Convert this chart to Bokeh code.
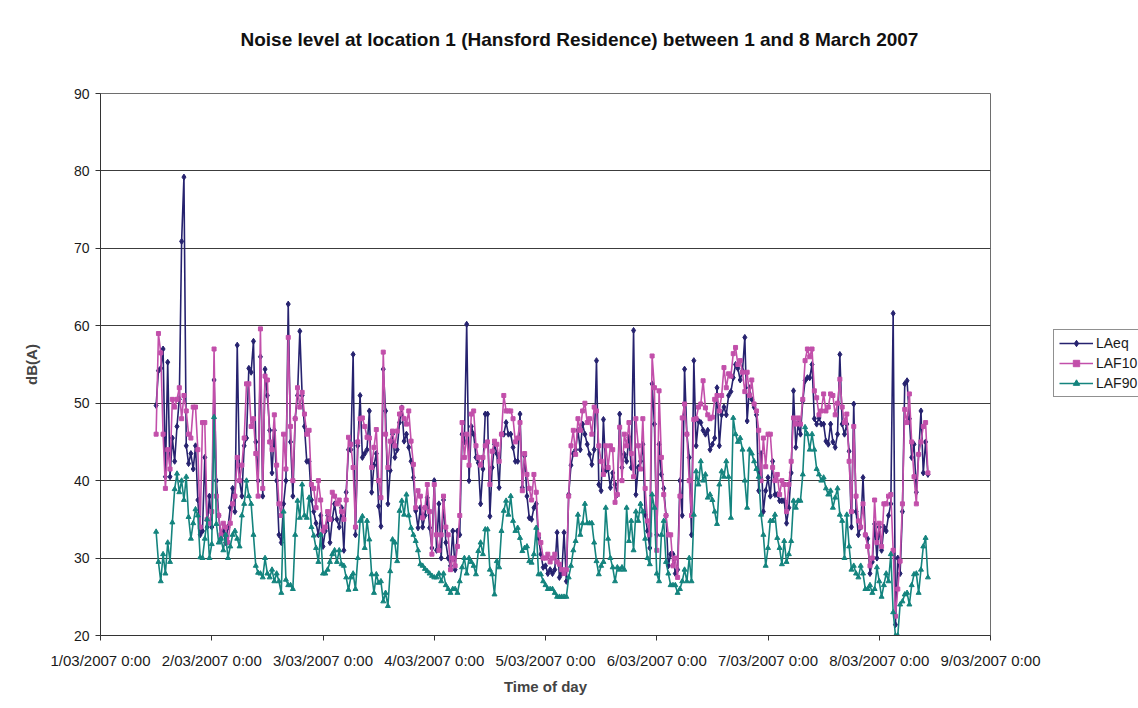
import pandas as pd
from bokeh.plotting import figure
from bokeh.layouts import row
from bokeh.models import FixedTicker, Legend, LegendItem, Range1d, Title
from bokeh.embed import file_html
from bokeh.resources import INLINE

# ---------------- data (30-minute readings from 1/03/2007 12:00) ----------------
start_time = "2007-03-01 12:00"
step = "30min"

LAeq = [
    49.7, 54.2, 54.5, 57.0, 40.5, 55.3, 40.5, 45.5, 42.5, 47.0, 50.5, 70.9, 79.2, 44.5, 42.2, 43.5, 41.5, 44.5, 37.5, 33.0, 33.5, 43.0, 34.0, 38.0,
    34, 53, 40, 35.5, 32.5, 33.5, 32, 34, 36.5, 39, 36, 57.5, 40, 38, 44.5, 45.5, 54.5, 54, 58, 45, 40, 56, 38, 54.4, 51, 46.5, 41, 46.5, 40, 33,
    32, 37, 40, 62.8, 45, 38, 48, 51, 59.3, 51, 47, 42.5, 42.5, 37.5, 36, 34.5, 33, 35.5,
    31.5, 33.5, 35.5, 32, 35, 37, 35, 34, 36.5, 31, 38.5, 44, 44, 56.3, 33, 44.5, 51, 43, 43.5, 44, 49, 38.5, 42, 43.5, 36.7, 34.1, 54.4, 49, 37, 41.3,
    46, 43, 44, 47.5, 49.4, 45.1, 46, 44.3, 42.5, 40.4, 36.1, 33.9, 36.5, 34, 35.5, 37.8, 33.9, 31.3,
    40, 31, 37, 30, 37.5, 32, 30, 29, 33.5, 28.5, 33.5, 33, 46, 45, 60.2, 40, 47, 46, 43, 42.3, 37, 41.5, 48.6, 48.6, 35.4, 41.7, 44.7, 43.5, 39.1, 46,
    46, 47.5, 46, 46, 44.3, 42.5, 42.5, 48.6, 39.1, 43.2, 38, 35.2, 35, 36.5, 37, 32.6, 30.5, 28.8,
    29, 28, 28.5, 28, 28.5, 33.3, 27.5, 28, 33.3, 27, 38.2, 42, 43.5, 44, 46.5, 44, 47.3, 46, 44.7, 43.4, 42.1, 44, 55.5, 39.5, 38.7, 47.9, 41.3, 41.5, 39.1, 41,
    39.5, 38.2, 48.6, 41.7, 43.4, 42.5, 45.6, 41.7, 59.4, 38.2, 41.7, 42.5, 44.7, 35.6, 33.5, 31.3, 52.5, 47.3,
    33, 44.7, 40.8, 39, 35.5, 29, 30.5, 30.5, 28, 28.5, 40, 35.5, 54.4, 46, 43, 33, 55.5, 44.5, 47.7, 47.5, 46.5, 46, 46.5, 44, 44.7, 45.5, 52, 44.5, 48.5, 49.5,
    48.5, 51, 51.5, 53.3, 55, 54.5, 53, 54.2, 58.5, 47.7, 52, 50.5, 49.5, 48.5, 38.7, 43.5, 36, 38.7,
    40.4, 38, 42.5, 38.2, 38.2, 37.4, 37.4, 37.4, 34.5, 36.5, 41, 51.6, 44.3, 47.3, 46, 50.3, 52.9, 53.3, 53.3, 55, 48, 47.3, 48.1, 47.3, 47.3, 45.1, 44.7, 47.3, 45, 44.3,
    46, 56.3, 47.3, 46, 47.3, 43.8, 34, 49.9, 36, 33, 34, 40.4, 33, 32.5, 28, 29.5, 34.4, 30,
    34, 31, 34, 33.5, 35.5, 37, 61.6, 21.4, 30, 28, 36, 52.5, 52.9, 48, 43, 44.7, 38.5, 43.4, 49, 41, 45, 40.8,
]

LAF10 = [
    46, 59, 56.5, 46, 39, 44, 41.5, 50.5, 49.5, 50.5, 52, 48, 51, 49, 46, 45.5, 49.5, 49.5, 44, 34, 47.5, 47.5, 35, 34.5,
    36, 57, 38, 35.5, 33, 34.5, 34, 32, 34.5, 37, 38, 43, 40, 42, 45.5, 52.5, 52.5, 47, 48, 43.5, 38, 59.6, 39, 53.5, 53, 45, 44, 48.5, 42, 37,
    35.5, 46, 41.5, 58.5, 47, 40, 48, 52, 49.5, 51.4, 48.6, 46, 46.5, 39.5, 39, 36.5, 40, 37.5,
    33.5, 34, 36, 35, 38.5, 38, 37, 37.5, 36, 35, 37.5, 45.6, 44.7, 41.7, 34, 45, 48, 48.1, 47, 45.6, 45.5, 41.7, 44.3, 46.6, 40, 37.8, 56.6, 46, 41.7, 45.1,
    46.4, 44.5, 46.4, 48.6, 49.4, 48, 47.3, 49, 45.1, 42.1, 36.5, 38.7, 38, 35.2, 36.5, 39.5, 36, 30.5,
    39.5, 33, 31, 33, 38, 34, 33, 28.5, 30, 29, 31.5, 35.5, 47.5, 43, 46, 42, 48.6, 49, 44.5, 43, 42, 43, 44.5, 45, 39.5, 43.8, 45.1, 44.7, 42.5, 46,
    51, 49, 49, 49, 48, 45, 45.5, 47.5, 38.7, 43.5, 40.8, 39, 37.5, 40.8, 38.5, 33, 32, 30,
    30, 30.5, 29.5, 30, 30.5, 29.5, 29.2, 28.5, 28, 28.5, 38, 44.5, 46.5, 43.4, 48, 46.5, 49, 50, 47.5, 48, 46, 49.5, 49, 44.5, 42.5, 40.8, 44.5, 41.7, 44.5, 44,
    37.2, 38.2, 46.9, 40, 46, 44.5, 47.5, 43.5, 40.5, 48, 44.5, 41.5, 48, 39, 34.8, 33, 56.1, 52,
    31, 51.6, 43, 38.2, 35.5, 33, 33, 29, 30, 27.5, 38, 48.1, 49.9, 46, 40, 35.5, 47.9, 48, 49.5, 49.9, 52.9, 49.4, 48.5, 48, 48.2, 50.5, 51, 49, 51, 54.6,
    52, 53.8, 53.5, 56.4, 57.2, 55, 55.5, 54, 51.5, 54, 51, 53, 49.9, 49, 46.5, 40, 45.5, 41.8,
    46, 46, 41.7, 40, 40.8, 38.2, 40, 39.5, 36, 39.5, 42.5, 48.1, 47.3, 48.1, 47.3, 50.5, 55.5, 57, 56, 57, 51.6, 50.7, 48.5, 49, 51.2, 49, 49.5, 51.2, 51, 48.5,
    50, 53.1, 49.5, 47.5, 48.6, 42.5, 36, 47, 38, 34.8, 34, 37, 33, 31.5, 29, 30, 37.5, 32,
    34.5, 31.5, 37, 37, 38, 38.2, 31, 22.5, 26, 29.6, 37, 49.2, 47.5, 51.2, 45, 40.5, 37, 43.4, 45, 47, 47.5, 41,
]

LAF90 = [
    33.4, 29.5, 27, 30.5, 28, 32, 29.5, 34.6, 38.9, 40.9, 38.5, 40, 37.5, 40.5, 35.3, 32.5, 34.5, 36.3, 35.5, 30.1, 30, 32.5, 35, 30,
    31.8, 48.2, 34.4, 32, 32.5, 31, 33, 30, 31.5, 33, 33.5, 32.5, 31.5, 35.5, 37, 40, 38, 37, 33, 29, 28.1, 28, 27.5, 30, 28, 27.5, 28.5, 27, 28, 27,
    25.5, 36, 27.2, 26.5, 26.5, 26, 33, 37.4, 35.2, 39.5, 35.5, 35.2, 37.8, 34, 32.9, 31.3, 29.5, 33,
    28, 28, 28.5, 29.5, 30.5, 31, 29.5, 31, 29.2, 29, 27.5, 25.9, 27.5, 28, 26, 30, 34.8, 35.4, 31.3, 34.8, 32.4, 27.9, 25.5, 27.9, 26.8, 27, 24.4, 25.5, 23.8, 28.3,
    32.4, 32, 29.6, 36.1, 37.4, 35.6, 38.2, 35.5, 33.9, 33, 32.2, 31, 29.2, 29, 28.6, 28.3, 28, 27.7,
    27.5, 27.5, 28, 27, 28, 26.5, 26, 25.5, 26, 26, 25.5, 27, 28.8, 30, 28, 30, 29.5, 29, 27.9, 30.9, 32, 30.5, 33.7, 33.7, 28.5, 27.9, 25.3, 29.6, 28.8, 33.5,
    36.1, 37.4, 35.6, 38, 34.8, 33.5, 33.9, 32.6, 30.9, 31.3, 31.5, 29.6, 29.4, 30.5, 33.9, 27.9, 27.9, 27,
    26.5, 26, 26, 26, 25.5, 25, 25, 25, 25, 25, 27.5, 29, 31, 32.2, 35.6, 33, 34.5, 37, 34.5, 34.5, 34.5, 32, 29.6, 27.9, 29, 29.5, 36.5, 32.5, 30, 28.8,
    27, 28.8, 28.5, 28.8, 28.5, 36.5, 32.2, 34.8, 31, 36, 34.8, 37, 36, 32.5, 30, 29.2, 38.2, 36.5,
    28, 27, 33, 34.8, 29.5, 28, 26.5, 26.5, 26.5, 25.5, 26, 27, 28.5, 27, 30, 27, 35.6, 41.2, 39.5, 42.5, 40, 40.8, 37.8, 38.2, 37.5, 36, 34.4, 39.5, 41.2, 40.5,
    42.5, 40.5, 35.2, 48.1, 46, 45, 45.5, 44, 40, 36.5, 44, 43.5, 42.5, 41.5, 40.5, 35.6, 33, 29,
    31.3, 34.8, 34.8, 35.6, 32.6, 31.3, 29.2, 32.2, 29.5, 30.5, 32.2, 37.4, 36.5, 37.4, 37.4, 40.8, 46.9, 46, 44, 46, 44, 41.5, 40.8, 40, 40.4, 39, 38.2, 38.7, 36.5, 37.8,
    39, 35.6, 34.8, 30, 35.6, 31.5, 28.5, 29, 28, 27.5, 29, 28, 26, 26, 26.5, 25.5, 26, 28.8,
    27, 25, 26.5, 28, 27, 30.5, 23, 20, 20, 24, 24.4, 25.3, 25.5, 24, 26.5, 27.9, 28, 25.5, 28.5, 31.5, 32.6, 27.5,
]

series_names = ["LAeq", "LAF10", "LAF90"]
x_tick_dates = ["2007-03-01", "2007-03-02", "2007-03-03", "2007-03-04", "2007-03-05",
                "2007-03-06", "2007-03-07", "2007-03-08", "2007-03-09"]
x_tick_labels = ["1/03/2007 0:00", "2/03/2007 0:00", "3/03/2007 0:00", "4/03/2007 0:00",
                 "5/03/2007 0:00", "6/03/2007 0:00", "7/03/2007 0:00", "8/03/2007 0:00",
                 "9/03/2007 0:00"]
y_ticks = [20, 30, 40, 50, 60, 70, 80, 90]

title_text = "Noise level at location 1 (Hansford Residence) between 1 and 8 March 2007"
x_title = "Time of day"
y_title = "dB(A)"

# ---------------- build ----------------
epoch = pd.Timestamp("1970-01-01")
ms = pd.Timedelta(milliseconds=1)
n = min(len(LAeq), len(LAF10), len(LAF90))
times = pd.date_range(start_time, periods=n, freq=step)
xs = [int((t - epoch) // ms) for t in times]
tick_ms = [int((pd.Timestamp(d) - epoch) // ms) for d in x_tick_dates]

FONT = "Liberation Sans"
C_EQ = "#26226F"
C_10 = "#C24FAA"
C_90 = "#14847E"

p = figure(width=1050, height=708, output_backend="svg", toolbar_location=None,
           x_range=Range1d(tick_ms[0], tick_ms[-1]), y_range=Range1d(20, 90),
           min_border_left=100, min_border_right=60, min_border_top=93, min_border_bottom=73)
p.title = None

# spacer (nearest to the plot area) then the real title above it
spacer = Title(text=" ", text_font_size="1px", standoff=36)
p.add_layout(spacer, "above")
main_title = Title(text=title_text, text_font=FONT, text_font_size="19px", text_font_style="bold",
                   text_color="#111111", align="left", offset=140, standoff=10)
p.add_layout(main_title, "above")

p.background_fill_color = "white"
p.border_fill_color = "white"
p.outline_line_color = "#6e6e6e"
p.outline_line_width = 1

p.xgrid.visible = False
p.ygrid.ticker = FixedTicker(ticks=y_ticks)
p.ygrid.grid_line_color = "#3c3c3c"
p.ygrid.grid_line_width = 1

ya = p.yaxis[0]
ya.ticker = FixedTicker(ticks=y_ticks)
ya.axis_label = y_title
ya.axis_label_text_font = FONT
ya.axis_label_text_font_size = "15px"
ya.axis_label_text_font_style = "bold"
ya.axis_label_standoff = 31
ya.major_label_text_font = FONT
ya.major_label_text_font_size = "14px"
ya.major_label_text_color = "#1a1a1a"
ya.major_tick_out = 5
ya.major_tick_in = 0
ya.minor_tick_out = 0
ya.minor_tick_in = 0
ya.major_label_standoff = 6
ya.axis_line_color = "#333333"
ya.major_tick_line_color = "#333333"

xa = p.xaxis[0]
xa.ticker = FixedTicker(ticks=tick_ms)
xa.major_label_overrides = {t: lab for t, lab in zip(tick_ms, x_tick_labels)}
xa.axis_label = x_title
xa.axis_label_text_font = FONT
xa.axis_label_text_font_size = "15px"
xa.axis_label_text_font_style = "bold"
xa.axis_label_standoff = 6
xa.major_label_text_font = FONT
xa.major_label_text_font_size = "15px"
xa.major_label_text_color = "#1a1a1a"
xa.major_tick_out = 5
xa.major_tick_in = 0
xa.minor_tick_out = 0
xa.minor_tick_in = 0
xa.major_label_standoff = 11
xa.axis_line_color = "#333333"
xa.major_tick_line_color = "#333333"

src = dict(x=xs, eq=LAeq[:n], f10=LAF10[:n], f90=LAF90[:n])

p.line(src["x"], src["eq"], line_color=C_EQ, line_width=1.6)
p.scatter(src["x"], src["eq"], marker="diamond", size=6, fill_color=C_EQ, line_color=C_EQ)
p.line(src["x"], src["f10"], line_color=C_10, line_width=1.6)
p.scatter(src["x"], src["f10"], marker="square", size=4, fill_color=C_10, line_color=C_10)
p.line(src["x"], src["f90"], line_color=C_90, line_width=1.6)
p.scatter(src["x"], src["f90"], marker="triangle", size=5, fill_color=C_90, line_color=C_90)

# ---------------- legend panel (right of the plot area) ----------------
q = figure(width=88, height=708, output_backend="svg", toolbar_location=None,
           x_range=Range1d(0, 1), y_range=Range1d(0, 1),
           min_border=0, min_border_left=0, min_border_right=0, min_border_top=0, min_border_bottom=0)
q.axis.visible = False
q.grid.visible = False
q.outline_line_color = None
q.background_fill_color = "white"
q.border_fill_color = "white"

# legend keys: the first reading of each series, which lies outside this panel's ranges
k_eq_l = q.line(src["x"][:1], src["eq"][:1], line_color=C_EQ, line_width=1.6)
k_eq_m = q.scatter(src["x"][:1], src["eq"][:1], marker="diamond", size=6, fill_color=C_EQ, line_color=C_EQ)
k_10_l = q.line(src["x"][:1], src["f10"][:1], line_color=C_10, line_width=1.6)
k_10_m = q.scatter(src["x"][:1], src["f10"][:1], marker="square", size=4, fill_color=C_10, line_color=C_10)
k_90_l = q.line(src["x"][:1], src["f90"][:1], line_color=C_90, line_width=1.6)
k_90_m = q.scatter(src["x"][:1], src["f90"][:1], marker="triangle", size=5, fill_color=C_90, line_color=C_90)

legend = Legend(items=[
    LegendItem(label=series_names[0], renderers=[k_eq_l, k_eq_m]),
    LegendItem(label=series_names[1], renderers=[k_10_l, k_10_m]),
    LegendItem(label=series_names[2], renderers=[k_90_l, k_90_m]),
], location=(3, 238))
legend.label_text_font = FONT
legend.label_text_font_size = "14px"
legend.label_text_color = "#1a1a1a"
legend.border_line_color = "#222222"
legend.border_line_width = 1
legend.background_fill_color = "white"
legend.background_fill_alpha = 1.0
legend.glyph_width = 34
legend.glyph_height = 16
legend.label_height = 16
legend.label_standoff = 3
legend.spacing = 4
legend.padding = 5
legend.margin = 0
q.add_layout(legend, "center")

layout = row(p, q, spacing=0)
open("out.html", "w").write(file_html(layout, INLINE))
